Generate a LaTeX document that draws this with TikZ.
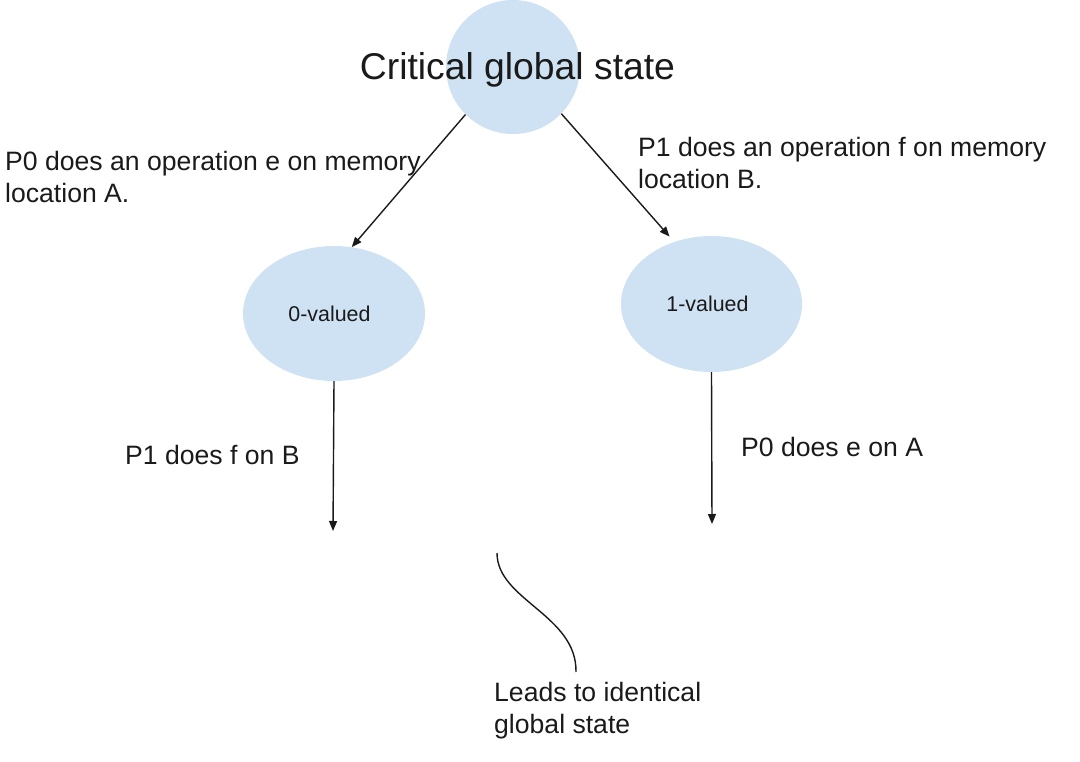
\documentclass[tikz,border=0pt]{standalone}
\usepackage{fontspec}
\setmainfont{Liberation Sans}
\usetikzlibrary{shapes.geometric,arrows.meta}
\definecolor{bubble}{HTML}{CFE2F3}
\definecolor{ink}{HTML}{1A1A1A}
\begin{document}
\begin{tikzpicture}[x=1pt,y=-1pt,
  state/.style={ellipse,fill=bubble,inner sep=0pt},
  lbl/.style={font=\fontsize{26.6}{32}\selectfont,inner sep=0pt,align=left,text=ink},
  arr/.style={line width=1.4pt,draw=ink,-{Triangle[length=10pt,width=8pt]}}]
\useasboundingbox (0,0) rectangle (1080,762);
\node[state,minimum width=134pt,minimum height=134pt] (top) at (513,67) {};
\node[font=\fontsize{37.3}{44}\selectfont,inner sep=0pt,anchor=base,text=ink] (ttl) at (517.5,80) {Critical global state};
\node[state,minimum width=182pt,minimum height=135pt,font=\fontsize{21.4}{25}\selectfont,text=ink] (zero) at (334,313.5) {0-valued\kern9pt};
\node[state,minimum width=181pt,minimum height=136pt,font=\fontsize{21.4}{25}\selectfont,text=ink] (one) at (711.5,304) {1-valued\kern8pt};
\node[lbl,anchor=north west] (la) at (5,151) {P0 does an operation e on memory\\location A.};
\node[lbl,anchor=north west] (lb) at (638,137) {P1 does an operation f on memory\\location B.};
\node[lbl,anchor=base west] (lc) at (125,464) {P1 does f on B};
\node[lbl,anchor=base west] (ld) at (741,456) {P0 does e on A};
\node[lbl,anchor=north west] (le) at (494,682) {Leads to identical\\global state};
\draw[arr] (top.225) -- (zero.75);
\draw[arr,shorten >=7pt] (top.-44) -- (one.121);
\coordinate (zb) at (333,531);
\coordinate (ob) at (712,524);
\draw[arr] (zero.south) -- (zb);
\draw[arr] (one.south) -- (ob);
\coordinate (c1) at (497,553);
\coordinate (c2) at (576,672);
\draw[line width=1.4pt,draw=ink] (c1) .. controls (497,600) and (577,615) .. (c2);
\end{tikzpicture}
\end{document}
